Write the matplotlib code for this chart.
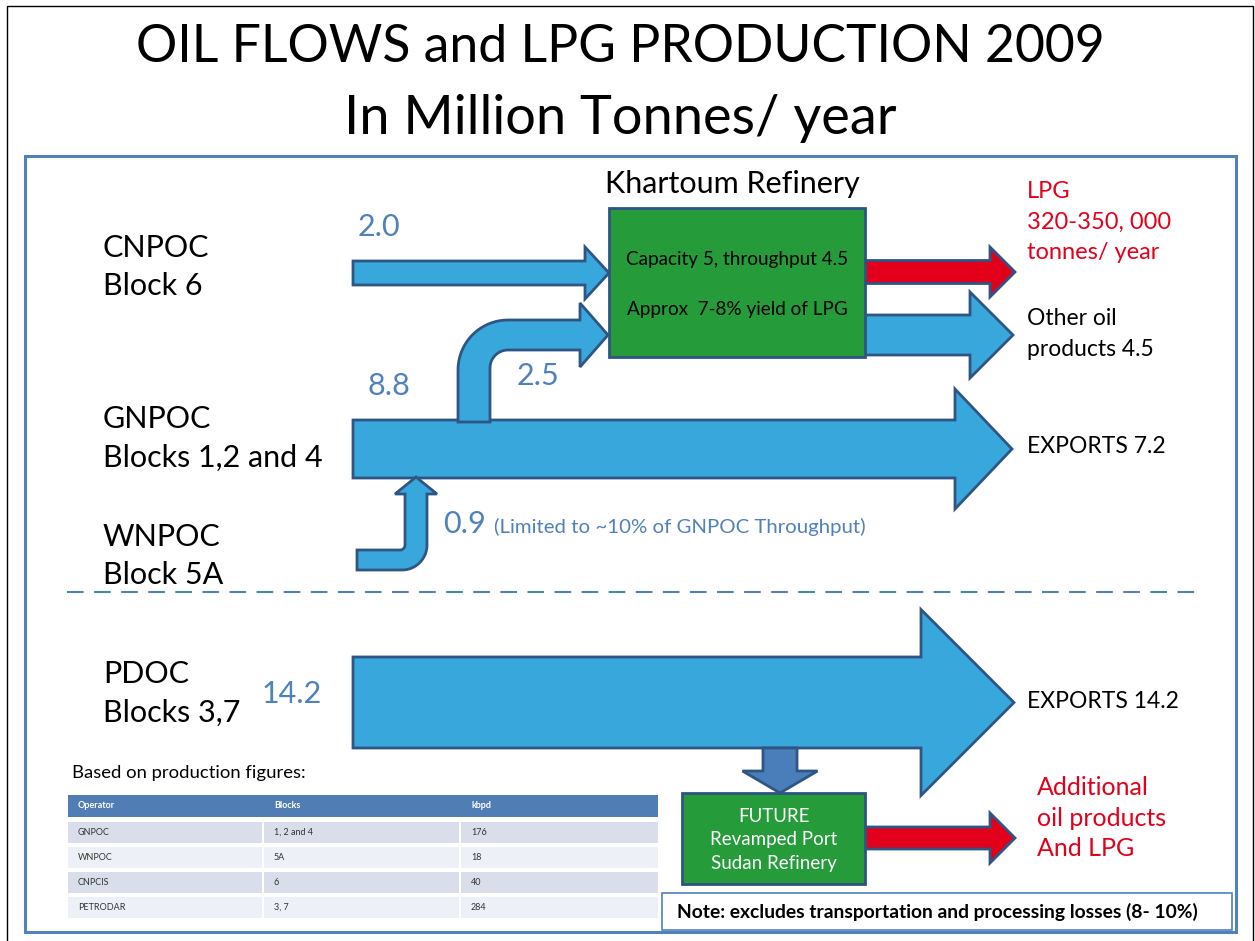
import numpy as np
import matplotlib
matplotlib.use("Agg")
from matplotlib import pyplot as plt
from matplotlib.patches import Polygon, Rectangle

plt.rcParams['font.family'] = ['Lato', 'DejaVu Sans']

# ---- data -------------------------------------------------------------
title_lines = ["OIL FLOWS and LPG PRODUCTION 2009", "In Million Tonnes/ year"]
producers = ["CNPOC\nBlock 6", "GNPOC\nBlocks 1,2 and 4", "WNPOC\nBlock 5A", "PDOC\nBlocks 3,7"]
flow_values = ["2.0", "8.8", "2.5", "0.9", "14.2"]
wnpoc_note = "(Limited to ~10% of GNPOC Throughput)"
refinery_name = "Khartoum Refinery"
refinery_text = ["Capacity 5, throughput 4.5", "Approx  7-8% yield of LPG"]
outputs = ["Other oil\nproducts 4.5", "EXPORTS 7.2", "EXPORTS 14.2"]
lpg_output = "LPG\n320-350, 000\ntonnes/ year"
future_text = "FUTURE\nRevamped Port\nSudan Refinery"
future_output = "Additional\noil products\nAnd LPG"
note_text = "Note: excludes transportation and processing losses (8- 10%)"

table_caption = "Based on production figures:"
table_header = ["Operator", "Blocks", "kbpd"]
table_operators = ["GNPOC", "WNPOC", "CNPCIS", "PETRODAR"]
table_blocks = ["1, 2 and 4", "5A", "6", "3, 7"]
table_kbpd = [176, 18, 40, 284]

# ---- styles -----------------------------------------------------------
ARROW = "#38A7DB"
EDGE = "#2E5584"
GREEN = "#259B3A"
RED = "#E2001A"
NUM = "#4F81BD"


def arrow_right(ax, x0, xh, xt, yc, sh, hh, fc=ARROW, z=3):
    pts = [(x0, yc - sh / 2), (xh, yc - sh / 2), (xh, yc - hh / 2), (xt, yc),
           (xh, yc + hh / 2), (xh, yc + sh / 2), (x0, yc + sh / 2)]
    ax.add_patch(Polygon(pts, closed=True, fc=fc, ec=EDGE, lw=2, zorder=z, joinstyle='miter'))


def arrow_down(ax, xc, y0, yh, yt, sw, hw, fc, z=3):
    pts = [(xc - sw / 2, y0), (xc - sw / 2, yh), (xc - hw / 2, yh), (xc, yt),
           (xc + hw / 2, yh), (xc + sw / 2, yh), (xc + sw / 2, y0)]
    ax.add_patch(Polygon(pts, closed=True, fc=fc, ec=EDGE, lw=2, zorder=z))


def arc(cx, cy, r, t0, t1, n=20):
    t = np.radians(np.linspace(t0, t1, n))
    return list(zip(cx + r * np.cos(t), cy + r * np.sin(t)))


def bent_up_right(ax, xl, xr, ybot, yt, yb, xh, hh, xt, R, z=4):
    # vertical shaft xl..xr going up, turning right into shaft yt..yb
    yc = (yt + yb) / 2
    r = R - (xr - xl)
    pts = [(xl, ybot), (xl, yt + R)]
    pts += arc(xl + R, yt + R, R, 180, 270)
    pts += [(xh, yt), (xh, yc - hh / 2), (xt, yc), (xh, yc + hh / 2), (xh, yb)]
    pts += arc(xr + r, yb + r, r, 270, 180)
    pts += [(xr, ybot)]
    ax.add_patch(Polygon(pts, closed=True, fc=ARROW, ec=EDGE, lw=2, zorder=z))


def bent_right_up(ax, x0, yt, yb, xl, xr, yh, hw, ytip, R, z=4):
    # horizontal shaft yt..yb going right, turning up into shaft xl..xr
    xc = (xl + xr) / 2
    r = max(R - (yb - yt), 2)
    pts = [(x0, yt), (xl - r, yt)]
    pts += arc(xl - r, yt - r, r, 90, 0)
    pts += [(xl, yh), (xc - hw / 2, yh), (xc, ytip), (xc + hw / 2, yh), (xr, yh)]
    pts += arc(xr - R, yb - R, R, 0, 90)
    pts += [(x0, yb)]
    ax.add_patch(Polygon(pts, closed=True, fc=ARROW, ec=EDGE, lw=2, zorder=z))


fig = plt.figure(figsize=(12.55, 9.41), dpi=100)
ax = fig.add_axes([0, 0, 1, 1])
ax.set_xlim(0, 1255)
ax.set_ylim(941, 0)
ax.axis('off')

# frames
ax.add_patch(Rectangle((7, 6), 1246, 950, fill=False, ec="black", lw=1))
ax.add_patch(Rectangle((25, 156), 1211, 776, fill=False, ec=NUM, lw=2.2, zorder=1))

# title
ax.text(620, 47, title_lines[0], ha='center', va='center', fontsize=37.3)
ax.text(620, 118, title_lines[1], ha='center', va='center', fontsize=39)

# producers
for label, y in zip(producers, [267, 438, 556, 693]):
    ax.text(103, y, label, ha='left', va='center', fontsize=22, linespacing=1.46)

# refinery
ax.text(732, 184, refinery_name, ha='center', va='center', fontsize=22)
ax.add_patch(Rectangle((609, 208), 256, 149, fc=GREEN, ec=EDGE, lw=2, zorder=5))
ax.text(737, 260, refinery_text[0], ha='center', va='center', fontsize=13.6, zorder=6)
ax.text(737, 309, refinery_text[1], ha='center', va='center', fontsize=13.6, zorder=6)

# arrows
arrow_right(ax, 353, 585, 609, 273, 24, 52)
arrow_right(ax, 865, 990, 1015, 272, 23, 50, fc=RED)
arrow_right(ax, 865, 970, 1013, 335, 40, 86)
arrow_right(ax, 353, 955, 1012, 449, 58, 120)
bent_up_right(ax, 458, 490, 422, 320, 350, 580, 64, 608, 50)
bent_right_up(ax, 357, 550, 570, 405, 427, 494, 42, 477, 25)
arrow_right(ax, 353, 921, 1014, 702.5, 91, 186)
arrow_down(ax, 780, 748, 771, 793, 34, 75, fc="#4A7EBB")
arrow_right(ax, 865, 990, 1015, 838, 22, 50, fc=RED)

# flow numbers
num_pos = [(379, 227), (389, 386), (538, 376), (464, 524), (292, 694)]
for v, (x, y) in zip(flow_values, num_pos):
    ax.text(x, y, v, ha='center', va='center', fontsize=22, color=NUM)
ax.text(494, 527, wnpoc_note, ha='left', va='center', fontsize=14.7, color=NUM)

# outputs
ax.text(1027, 222, lpg_output, ha='left', va='center', fontsize=17, color=RED, linespacing=1.54)
for label, y in zip(outputs, [334, 446, 701]):
    ax.text(1027, y, label, ha='left', va='center', fontsize=16.5, linespacing=1.56)

# dashed divider
ax.plot([67, 1195], [592, 592], color=NUM, lw=1.5, dashes=(8, 5))

# future refinery
ax.add_patch(Rectangle((682, 793), 183, 91, fc=GREEN, ec=EDGE, lw=2, zorder=5))
ax.text(774, 840, future_text, ha='center', va='center', fontsize=13.5, color='white',
        linespacing=1.5, zorder=6)
ax.text(1037, 818, future_output, ha='left', va='center', fontsize=18, color=RED, linespacing=1.38)

# note
ax.add_patch(Rectangle((662, 893), 570, 37, fc='white', ec=NUM, lw=1.2, zorder=5))
ax.text(677, 912, note_text, ha='left', va='center', fontsize=13.9, fontweight='bold', zorder=6)

# table
ax.text(72, 773, table_caption, ha='left', va='center', fontsize=13.3)
col_x = [68, 264, 461]
col_w = [194, 195, 197]
ax.add_patch(Rectangle((68, 795), 590, 22, fc="#4F7DB4", ec='none'))
for i, h in enumerate(table_header):
    ax.text(col_x[i] + 10, 806, h, ha='left', va='center', fontsize=6.5, color='white', fontweight='bold')
for r, row in enumerate(zip(table_operators, table_blocks, table_kbpd)):
    y0 = 822 + r * 25
    fc = "#D9DEEA" if r % 2 == 0 else "#EDF0F6"
    for i, cell in enumerate(row):
        ax.add_patch(Rectangle((col_x[i], y0), col_w[i], 21, fc=fc, ec='none'))
        ax.text(col_x[i] + 10, y0 + 10.5, str(cell), ha='left', va='center', fontsize=6.5, color='#333333')

fig.savefig("out.png", dpi=100)
